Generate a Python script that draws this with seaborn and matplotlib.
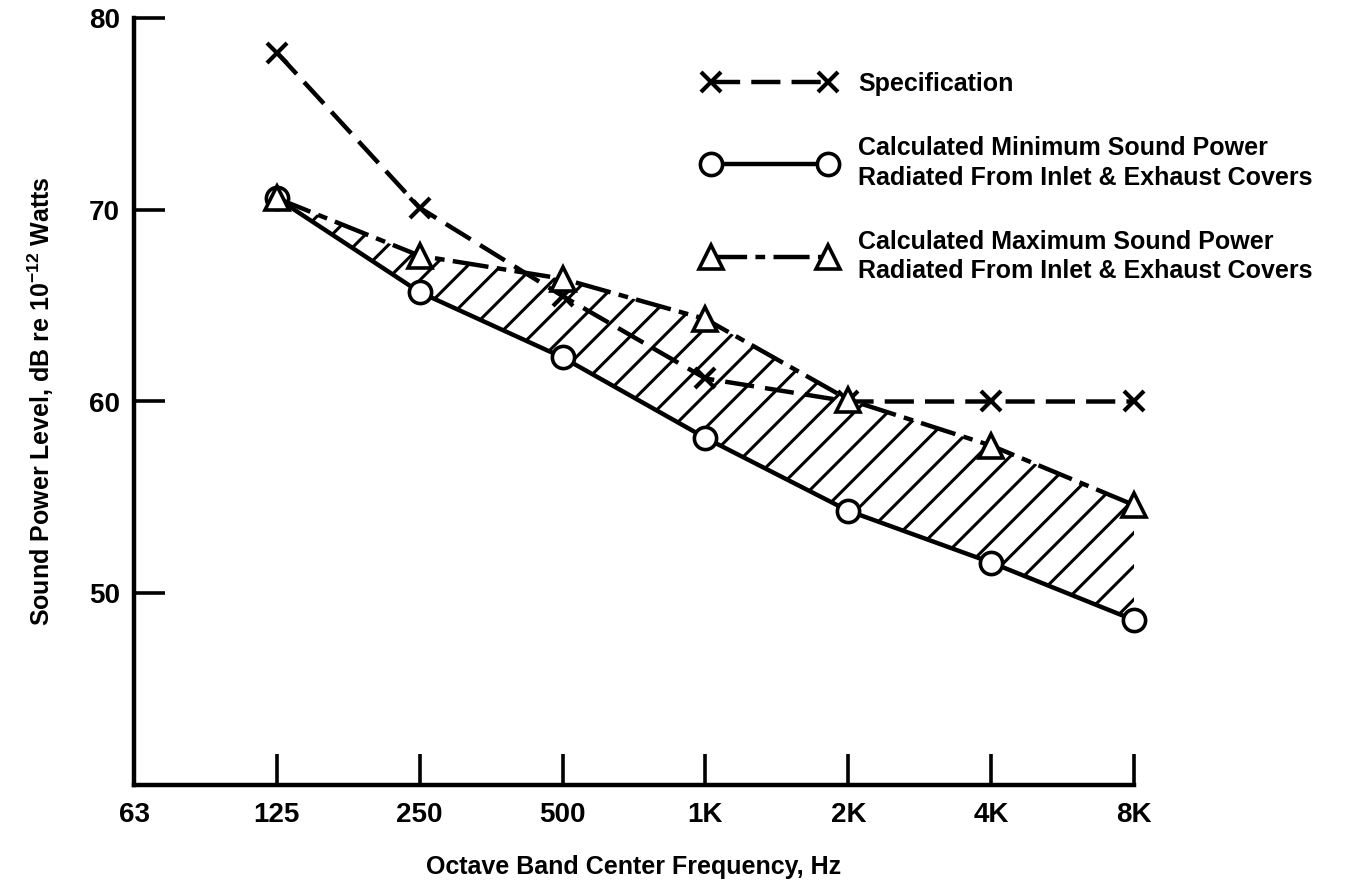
import matplotlib
matplotlib.use("Agg")
import matplotlib.pyplot as plt
import seaborn as sns
import numpy as np

# Octave band centres and sound power levels (dB re 1e-12 W)
bands = ["63", "125", "250", "500", "1K", "2K", "4K", "8K"]
data_bands = ["125", "250", "500", "1K", "2K", "4K", "8K"]
spec_levels = [78.2, 70.1, 65.5, 61.2, 60.0, 60.0, 60.0]
min_levels = [70.6, 65.7, 62.3, 58.1, 54.3, 51.6, 48.6]
max_levels = [70.6, 67.6, 66.4, 64.3, 60.1, 57.7, 54.6]

legend_labels = [
    "Specification",
    "Calculated Minimum Sound Power\nRadiated From Inlet & Exhaust Covers",
    "Calculated Maximum Sound Power\nRadiated From Inlet & Exhaust Covers",
]

sns.set_style("ticks")
plt.rcParams["font.family"] = ["Liberation Sans", "DejaVu Sans"]
plt.rcParams["font.weight"] = "bold"
plt.rcParams["text.color"] = "black"
plt.rcParams["axes.labelcolor"] = "black"
plt.rcParams["mathtext.fontset"] = "custom"
plt.rcParams["mathtext.rm"] = "Liberation Sans:bold"
plt.rcParams["mathtext.default"] = "rm"
plt.rcParams["lines.scale_dashes"] = False
plt.rcParams["hatch.linewidth"] = 2.2

fig = plt.figure(figsize=(13.51, 8.80), dpi=100)
ax = fig.add_axes([134 / 1351, 1 - 785 / 880, 1000 / 1351, (785 - 18) / 880])

pos = {b: i for i, b in enumerate(bands)}
x = np.array([pos[b] for b in data_bands], dtype=float)

# shaded band between minimum and maximum estimates
ax.fill_between(x, min_levels, max_levels, facecolor="none", edgecolor="black",
                hatch="/", linewidth=0, zorder=1)

lw = 3.2
sns.lineplot(x=x, y=spec_levels, ax=ax, color="black", linewidth=lw,
             linestyle=(0, (21, 8)), marker="x", markersize=15,
             markeredgecolor="black", markeredgewidth=3,
             label=legend_labels[0], zorder=3, clip_on=False)
sns.lineplot(x=x, y=min_levels, ax=ax, color="black", linewidth=lw,
             linestyle="-", marker="o", markersize=16, markerfacecolor="white",
             markeredgecolor="black", markeredgewidth=2.6,
             label=legend_labels[1], zorder=4, clip_on=False)
sns.lineplot(x=x, y=max_levels, ax=ax, color="black", linewidth=lw,
             linestyle=(0, (26, 6, 7, 6)), marker="^", markersize=17,
             markerfacecolor="white", markeredgecolor="black",
             markeredgewidth=2.6, label=legend_labels[2], zorder=5,
             clip_on=False)

ax.set_xlim(0, len(bands) - 1)
ax.set_ylim(40, 80)
ax.set_xticks(range(len(bands)))
ax.set_xticklabels(bands)
ax.set_yticks([50, 60, 70, 80])

for side in ("top", "right"):
    ax.spines[side].set_visible(False)
for side in ("left", "bottom"):
    ax.spines[side].set_linewidth(3.2)
    ax.spines[side].set_color("black")

ax.tick_params(axis="both", direction="in", length=22, width=2.6,
               colors="black", labelsize=20, pad=12, bottom=True, left=True)
ax.tick_params(axis="y", pad=10)
for lab in ax.get_xticklabels() + ax.get_yticklabels():
    lab.set_fontweight("bold")

ax.set_xlabel("Octave Band Center Frequency, Hz", fontsize=18,
              fontweight="bold", labelpad=20)
ax.set_ylabel("Sound Power Level, dB re 10$^{-12}$ Watts", fontsize=18,
              fontweight="bold")
ax.yaxis.set_label_coords(-0.078, 0.5)

leg = ax.legend(loc="upper left", bbox_to_anchor=(703 / 1351, 1 - 72 / 880),
                bbox_transform=fig.transFigure, frameon=False, fontsize=18,
                numpoints=2, handlelength=5.3, handletextpad=0.9,
                labelspacing=1.6, borderpad=0, borderaxespad=0)
for t in leg.get_texts():
    t.set_fontweight("bold")
    t.set_linespacing(1.3)

fig.savefig("out.png", dpi=100)
